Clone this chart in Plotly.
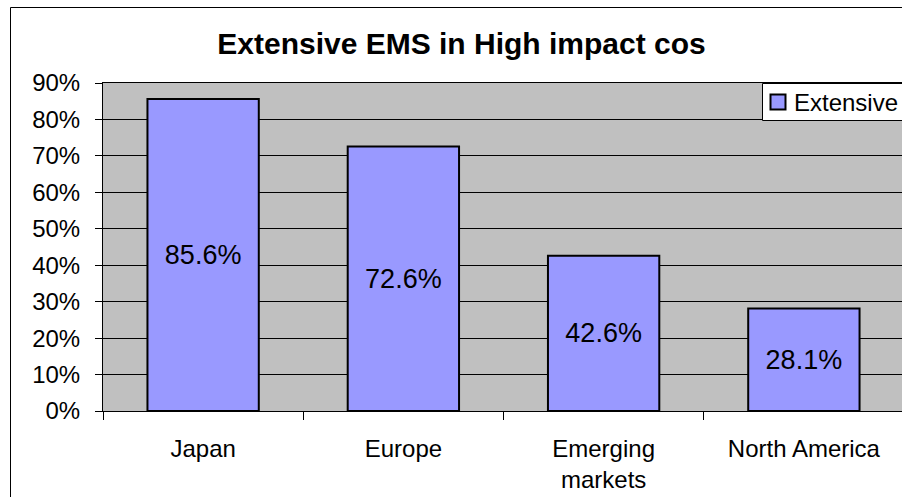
import plotly.graph_objects as go

categories = ["Japan", "Europe", "Emerging<br>markets", "North America"]
values = [0.856, 0.726, 0.426, 0.281]
labels = ["85.6%", "72.6%", "42.6%", "28.1%"]
series_name = "Extensive"
title_text = "Extensive EMS in High impact cos"

W, H = 902, 497
L, R, T, B = 103, 0, 83, 86
PW, PH = W - L - R, H - T - B
FONT = "Liberation Sans, Arial, sans-serif"
BAR_COLOR = "#9999FF"


def px_x(p):
    return (p - L) / PW


def px_y(p):
    return (H - B - p) / PH


fig = go.Figure()
fig.add_trace(go.Bar(
    x=categories, y=values, name=series_name,
    marker=dict(color=BAR_COLOR, line=dict(color="black", width=2)),
    text=labels, texttemplate="%{text}", textposition="inside",
    insidetextanchor="middle",
    textfont=dict(family=FONT, size=27, color="black"),
    hoverinfo="skip", showlegend=False,
))

shapes = [
    # chart border
    dict(type="rect", xref="paper", yref="paper",
         x0=px_x(10.5), x1=px_x(920), y0=px_y(520), y1=px_y(7.5),
         line=dict(color="black", width=1), fillcolor="rgba(0,0,0,0)", layer="above"),
    # legend box
    dict(type="rect", xref="paper", yref="paper",
         x0=px_x(762.5), x1=px_x(930), y0=px_y(120.5), y1=px_y(83.5),
         line=dict(color="black", width=1), fillcolor="white", layer="above"),
    # legend swatch
    dict(type="rect", xref="paper", yref="paper",
         x0=px_x(770.5), x1=px_x(785.5), y0=px_y(109.5), y1=px_y(94.5),
         line=dict(color="black", width=2), fillcolor=BAR_COLOR, layer="above"),
]

annotations = [
    dict(text=series_name, xref="paper", yref="paper",
         x=px_x(792), y=px_y(102), xanchor="left", yanchor="middle",
         showarrow=False, font=dict(family=FONT, size=24, color="black")),
]

fig.update_layout(
    width=W, height=H,
    margin=dict(l=L, r=R, t=T, b=B, pad=0),
    paper_bgcolor="white", plot_bgcolor="#C0C0C0",
    bargap=0.444,
    title=dict(text="<b>" + title_text + "</b>", xref="container", yref="container",
               x=461.5 / W, y=1 - 43 / H, xanchor="center", yanchor="middle",
               font=dict(family=FONT, size=30, color="black")),
    xaxis=dict(
        type="category", range=[-0.5, 3.49],
        showline=True, linecolor="black", linewidth=1, mirror=True,
        ticks="outside", tickson="boundaries", ticklen=8, tickcolor="black", tickwidth=1,
        ticklabelstandoff=16,
        showgrid=False, tickfont=dict(family=FONT, size=24, color="black"),
    ),
    yaxis=dict(
        range=[0, 0.9], dtick=0.1, tick0=0, tickformat=".0%",
        showline=True, linecolor="black", linewidth=1,
        ticks="outside", ticklen=7, tickcolor="black", tickwidth=1,
        ticklabelstandoff=10,
        showgrid=True, gridcolor="black", gridwidth=1, zeroline=False,
        tickfont=dict(family=FONT, size=24, color="black"),
    ),
    shapes=shapes, annotations=annotations,
    showlegend=False,
)

fig.write_html("out.html")
